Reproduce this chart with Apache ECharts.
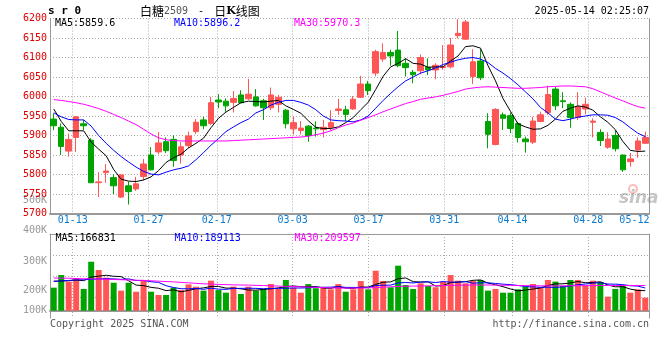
<!DOCTYPE html>
<html><head><meta charset="utf-8">
<script src="https://cdn.jsdelivr.net/npm/echarts@6/dist/echarts.min.js"></script>
<style>html,body{margin:0;padding:0;background:#fff}#c{width:660px;height:360px}</style>
</head><body><div id="c"></div>
<script>
// ---------------- data ----------------
const dates = ['01-08','01-09','01-10','01-13','01-14','01-15','01-16','01-17','01-20','01-21','01-22','01-23','01-24','01-27',
 '02-05','02-06','02-07','02-10','02-11','02-12','02-13','02-14','02-17','02-18','02-19','02-20','02-21','02-24','02-25','02-26','02-27','02-28',
 '03-03','03-04','03-05','03-06','03-07','03-10','03-11','03-12','03-13','03-14','03-17','03-18','03-19','03-20','03-21','03-24','03-25','03-26','03-27','03-28','03-31',
 '04-01','04-02','04-03','04-07','04-08','04-09','04-10','04-11','04-14','04-15','04-16','04-17','04-18','04-21','04-22','04-23','04-24','04-25','04-28','04-29','04-30',
 '05-06','05-07','05-08','05-09','05-12','05-13'];
const openP  = [5942,5921,5860,5895,5930,5888,5779,5805,5792,5742,5771,5763,5795,5850,5858,5884,5890,5850,5874,5910,5940,5931,5991,5988,5985,6004,5994,5999,5989,5971,5980,5965,5917,5913,5924,5919,5915,5921,5964,5966,5968,5998,6032,6060,6096,6113,6119,6085,6062,6066,6075,6068,6074,6076,6156,6147,6051,6091,5936,5877,5953,5951,5931,5891,5883,5936,5959,6019,5989,5980,5946,5968,5934,5908,5870,5900,5850,5833,5863,5880];
const closeP = [5925,5872,5890,5948,5925,5779,5781,5809,5771,5799,5756,5776,5827,5812,5881,5861,5836,5871,5899,5934,5925,5984,5986,5976,5995,5984,6006,5976,5971,6004,5998,5930,5933,5919,5900,5917,5921,5933,5968,5954,5993,6032,6015,6115,6113,6104,6079,6074,6056,6100,6068,6080,6076,6132,6162,6191,6089,6048,5903,5967,5944,5918,5895,5884,5937,5953,6005,5976,5987,5946,5974,5980,5937,5887,5891,5866,5812,5840,5886,5895];
const lowP   = [5914,5850,5846,5858,5914,5778,5742,5779,5750,5740,5723,5758,5785,5810,5852,5855,5820,5828,5868,5904,5916,5927,5970,5961,5959,5983,5991,5974,5940,5965,5959,5918,5903,5903,5884,5897,5895,5914,5953,5937,5966,5996,6004,6052,6089,6079,6075,6051,6034,6057,6055,6044,6069,6072,6149,6145,6032,6042,5867,5875,5914,5906,5882,5856,5878,5934,5953,5965,5970,5920,5940,5954,5895,5873,5866,5859,5807,5820,5843,5878];
const highP  = [5957,5931,5905,5950,5940,5893,5806,5827,5801,5801,5782,5794,5840,5870,5909,5895,5901,5883,5910,5942,5948,5999,6006,5995,6014,6016,6045,6019,5994,6023,6004,5968,5948,5937,5927,5936,5940,5965,5994,5976,6001,6053,6040,6120,6136,6120,6168,6098,6068,6108,6098,6085,6132,6150,6198,6196,6121,6121,5957,5970,5959,5959,5935,5897,5948,5961,6028,6025,6011,5985,6011,5997,5944,5916,5908,5914,5851,5855,5895,5910];
const ma5  = [5968,5936,5912,5912,5912,5883,5865,5848,5813,5788,5783,5782,5786,5794,5810,5831,5843,5852,5868,5880,5893,5920,5944,5960,5972,5984,5988,5987,5986,5988,5990,5976,5967,5957,5938,5921,5918,5918,5922,5933,5946,5966,5985,6018,6052,6076,6085,6097,6085,6083,6075,6076,6076,6091,6104,6128,6130,6124,6079,6040,5995,5962,5930,5922,5916,5917,5926,5942,5962,5970,5976,5973,5965,5948,5934,5915,5885,5862,5859,5860];
const ma10 = [5958,5948,5941,5940,5940,5924,5900,5880,5862,5846,5832,5819,5808,5801,5799,5806,5812,5816,5822,5838,5856,5875,5892,5910,5922,5933,5942,5958,5966,5978,5985,5990,5990,5985,5978,5966,5950,5940,5938,5937,5935,5940,5950,5970,5990,6008,6025,6040,6050,6060,6066,6073,6082,6088,6094,6098,6100,6096,6087,6072,6060,6046,6030,6012,5994,5972,5958,5942,5938,5942,5947,5950,5953,5953,5952,5946,5935,5920,5906,5897];
const ma30 = [5992,5990,5987,5984,5980,5975,5969,5962,5954,5946,5937,5928,5916,5904,5894,5889,5887,5886,5886,5886,5886,5886,5886,5886,5887,5888,5889,5890,5891,5892,5893,5894,5895,5896,5898,5902,5906,5912,5920,5927,5932,5939,5946,5953,5961,5968,5975,5982,5987,5993,5996,5999,6003,6008,6013,6019,6022,6024,6025,6024,6023,6022,6021,6021,6022,6023,6025,6026,6027,6027,6026,6025,6020,6012,6004,5996,5989,5981,5974,5970];
// volume in thousands (K)
const volK = [192,297,242,272,181,408,339,275,233,167,233,158,256,158,131,131,192,172,219,200,167,250,172,150,200,139,200,167,181,222,181,256,192,150,222,187,195,178,222,158,178,247,178,333,247,195,375,214,181,228,206,195,242,297,250,228,247,256,167,181,150,150,178,200,222,195,256,242,206,256,256,206,250,239,117,181,214,150,178,108];
const vma5  = [245,247,250,255,250,280,288,295,287,284,249,213,209,194,187,167,174,157,169,183,190,202,202,188,188,182,172,171,177,182,190,201,206,200,200,201,189,186,201,188,186,197,197,219,237,240,266,273,242,239,241,205,210,234,238,242,253,256,230,216,200,181,165,172,180,189,210,223,224,231,243,233,235,241,214,199,200,180,168,167];
const vma10 = [245,248,252,256,258,262,265,266,265,261,265,251,252,241,236,208,193,183,182,185,178,188,179,178,185,186,187,186,183,185,186,187,189,189,191,196,195,196,201,194,194,193,192,210,212,213,231,235,231,238,240,235,242,238,238,242,229,233,232,227,221,217,210,201,198,195,196,194,198,206,216,222,229,233,222,221,217,208,205,189];
const vma30 = [272,271,270,268,266,265,264,262,260,258,256,254,252,249,246,243,240,236,232,228,224,221,219,217,215,214,213,211,209,207,205,203,201,199,197,194,192,190,189,188,188,189,190,193,196,199,202,204,205,206,207,208,209,211,212,213,214,214,214,213,212,211,210,209,208,207,207,207,207,208,208,209,209,210,210,210,210,210,210,210];
const gridDates  = ['01-13','01-27','02-17','03-03','03-17','03-31','04-14','04-28'];
const tickLabels = ['01-13','01-27','02-17','03-03','03-17','03-31','04-14','04-28','05-12'];
const volTickLabels = ['500K','400K','300K','200K','100K'];
const priceLegend = [['MA5','5859.6'],['MA10','5896.2'],['MA30','5970.3']];
const volLegend   = [['MA5','166831'],['MA10','189113'],['MA30','209597']];
const titleCode = 's r 0';
const timeStamp = '2025-05-14 02:25:07';

// ---------------- layout / style ----------------
const RED = '#ff5555', GREEN = '#00a400', FRAME = '#999';
const MA_COLORS = ['#000000', '#0000ff', '#ff00ff'];
const MONO = 'DejaVu Sans Mono';
const CJK = 'Noto Sans CJK SC';
const dash = { color: '#aaa', type: [1, 2], width: 1 };
const volLabelY = [200.5, 230.7, 261, 290, 310];
const legendX = [55, 174, 294];
const isGrid = (i, v) => gridDates.indexOf(v) >= 0;
const isTick = (i, v) => tickLabels.indexOf(v) >= 0;
const lastTick = tickLabels[tickLabels.length - 1];

const chart = echarts.init(document.getElementById('c'), null, { renderer: 'canvas' });

const candleData = dates.map((d, i) => [openP[i], closeP[i], lowP[i], highP[i]]);
const volData = volK.map((v, i) => ({ value: v, itemStyle: { color: closeP[i] >= openP[i] ? RED : GREEN } }));

const hiddenAxis = { axisTick: { show: false }, axisLabel: { show: false }, splitLine: { show: false } };

function lineSeries(data, color, xi, yi) {
  return { type: 'line', data: data, xAxisIndex: xi, yAxisIndex: yi, symbol: 'none', silent: true, z: 5,
    lineStyle: { color: color, width: 1 }, itemStyle: { color: color } };
}

const graphics = [];
graphics.push({ type: 'text', x: 48, y: 11, style: { text: titleCode, font: 'bold 11px "' + MONO + '"', fill: '#000', verticalAlign: 'middle' } });
graphics.push({ type: 'text', x: 140, y: 11, style: {
  text: '{c|白糖}{n|2509}{m| - }{c|日}{k|K}{c|线图}', verticalAlign: 'middle',
  rich: {
    c: { fontFamily: CJK, fontSize: 12, fill: '#000' },
    n: { fontFamily: MONO, fontSize: 10, fill: '#555' },
    m: { fontFamily: MONO, fontSize: 10, fill: '#000', padding: [0, 4, 0, 4] },
    k: { fontFamily: 'DejaVu Serif', fontSize: 11, fontWeight: 'bold', fill: '#000' }
  } } });
graphics.push({ type: 'text', x: 649, y: 11, style: { text: timeStamp, font: '10px "' + MONO + '"', fill: '#000', align: 'right', verticalAlign: 'middle' } });
priceLegend.forEach((p, k) => graphics.push({ type: 'text', x: legendX[k], y: 23, z: 10,
  style: { text: p[0] + ':' + p[1], font: '10px "' + MONO + '"', fill: MA_COLORS[k], verticalAlign: 'middle' } }));
volLegend.forEach((p, k) => graphics.push({ type: 'text', x: legendX[k] + 0.5, y: 238.5, z: 10,
  style: { text: p[0] + ':' + p[1], font: '10px "' + MONO + '"', fill: MA_COLORS[k], verticalAlign: 'middle' } }));
volTickLabels.forEach((t, k) => graphics.push({ type: 'text', x: 47, y: volLabelY[k],
  style: { text: t, font: '10px "' + MONO + '"', fill: '#999', align: 'right', verticalAlign: 'middle' } }));
graphics.push({ type: 'text', x: 50, y: 324.5, style: { text: 'Copyright 2025 SINA.COM', font: '10px "' + MONO + '"', fill: '#555', verticalAlign: 'middle' } });
graphics.push({ type: 'text', x: 649, y: 324.5, style: { text: 'http://finance.sina.com.cn', font: '10px "' + MONO + '"', fill: '#555', align: 'right', verticalAlign: 'middle' } });
graphics.push({ type: 'circle', shape: { cx: 633, cy: 189, r: 4 }, z: 1, style: { fill: 'none', stroke: 'rgba(240,110,110,0.45)', lineWidth: 2 } });
graphics.push({ type: 'text', x: 619, y: 199, z: 1, style: { text: 'sina', font: 'italic bold 17px "DejaVu Sans"', fill: 'rgba(150,150,150,0.55)', verticalAlign: 'middle' } });

const option = {
  animation: false,
  backgroundColor: '#fff',
  grid: [
    { left: 50, right: 11, top: 18.5, height: 195 },
    { left: 50, right: 11, top: 234, height: 84 }
  ],
  xAxis: [
    Object.assign({ type: 'category', gridIndex: 0, data: dates, boundaryGap: true,
      axisLine: { show: true, lineStyle: { color: FRAME, width: 2 } } }, hiddenAxis),
    { type: 'category', gridIndex: 0, data: dates, boundaryGap: false, position: 'bottom',
      axisLine: { show: false }, axisTick: { show: false },
      splitLine: { show: true, interval: isGrid, lineStyle: dash },
      axisLabel: { show: true, interval: isTick, color: '#0a7ad1', fontFamily: MONO, fontSize: 10, margin: 2,
        formatter: v => v === lastTick ? '{e|' + v + '}' : v,
        rich: { e: { padding: [0, 14, 0, 0], color: '#0a7ad1', fontFamily: MONO, fontSize: 10 } } } },
    Object.assign({ type: 'category', gridIndex: 1, data: dates, boundaryGap: true,
      axisLine: { show: true, lineStyle: { color: FRAME, width: 2 } } }, hiddenAxis),
    { type: 'category', gridIndex: 1, data: dates, boundaryGap: false, position: 'top',
      axisLine: { show: true, lineStyle: { color: FRAME, width: 1 } }, axisTick: { show: false }, axisLabel: { show: false },
      splitLine: { show: true, interval: isGrid, lineStyle: dash } }
  ],
  yAxis: [
    { type: 'value', gridIndex: 0, min: 5700, max: 6200, interval: 50,
      axisLine: { show: true, lineStyle: { color: FRAME } }, axisTick: { show: false },
      axisLabel: { color: '#e00000', fontFamily: MONO, fontSize: 10, margin: 3, formatter: v => String(v) },
      splitLine: { show: true, lineStyle: dash } },
    Object.assign({ type: 'value', gridIndex: 0, position: 'right', min: 5700, max: 6200,
      axisLine: { show: true, lineStyle: { color: FRAME } } }, hiddenAxis),
    Object.assign({ type: 'value', gridIndex: 1, min: -61, max: 639,
      axisLine: { show: true, lineStyle: { color: FRAME } } }, hiddenAxis),
    { type: 'category', gridIndex: 1, position: 'right', data: ['a', 'b', 'c', 'd', 'e'], boundaryGap: false,
      axisLine: { show: true, lineStyle: { color: FRAME } }, axisTick: { show: false }, axisLabel: { show: false },
      splitLine: { show: true, interval: i => i >= 1 && i <= 3, lineStyle: dash } }
  ],
  series: [
    { type: 'candlestick', xAxisIndex: 0, yAxisIndex: 0, data: candleData, barWidth: 6, silent: true, z: 3,
      itemStyle: { color: RED, color0: GREEN, borderColor: RED, borderColor0: GREEN, borderWidth: 1 } },
    lineSeries(ma5, MA_COLORS[0], 0, 0),
    lineSeries(ma10, MA_COLORS[1], 0, 0),
    lineSeries(ma30, MA_COLORS[2], 0, 0),
    { type: 'bar', xAxisIndex: 2, yAxisIndex: 2, data: volData, barWidth: 6, silent: true, z: 3 },
    lineSeries(vma5, MA_COLORS[0], 2, 2),
    lineSeries(vma10, MA_COLORS[1], 2, 2),
    lineSeries(vma30, MA_COLORS[2], 2, 2)
  ],
  graphic: graphics
};
chart.setOption(option);
</script>
</body></html>
